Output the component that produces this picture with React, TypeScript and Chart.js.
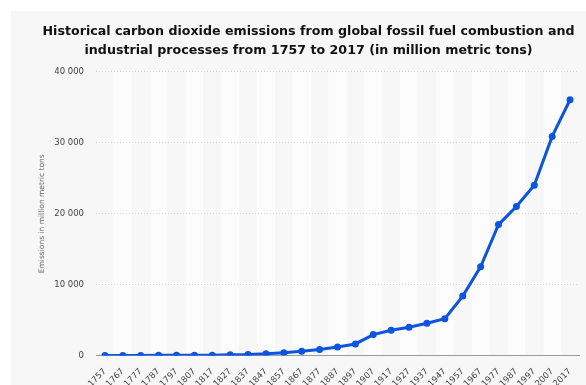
import React, { useEffect, useRef } from "react";
import { Chart, registerables } from "chart.js";

Chart.register(...registerables);

const years: string[] = [
  "1757", "1767", "1777", "1787", "1797", "1807", "1817", "1827", "1837",
  "1847", "1857", "1867", "1877", "1887", "1897", "1907", "1917", "1927",
  "1937", "1947", "1957", "1967", "1977", "1987", "1997", "2007", "2017",
];

const emissions: number[] = [
  9, 11, 14, 20, 26, 37, 45, 100, 130,
  230, 400, 600, 850, 1200, 1630, 2950, 3550, 3980,
  4550, 5200, 8380, 12520, 18470, 21010, 24030, 30910, 36080,
];

const titleLines: string[] = [
  "Historical carbon dioxide emissions from global fossil fuel combustion and",
  "industrial processes from 1757 to 2017 (in million metric tons)",
];

const yAxisTitle = "Emissions in million metric tons";

const fmt = (v: number) => String(v).replace(/\B(?=(\d{3})+(?!\d))/g, " ");

const backgroundPlugin = {
  id: "panelBands",
  beforeDraw(chart: any) {
    const { ctx, chartArea, scales } = chart;
    ctx.save();
    ctx.fillStyle = "#f7f7f7";
    ctx.fillRect(11, 11, chart.width - 11, chart.height - 11);
    const x = scales.x;
    const n = x.ticks.length;
    const bw = (chartArea.right - chartArea.left) / n;
    ctx.fillStyle = "#fcfcfc";
    for (let i = 1; i < n; i += 2) {
      const cx = x.getPixelForValue(i);
      ctx.fillRect(cx - bw / 2, chartArea.top, bw, chartArea.bottom - chartArea.top);
    }
    ctx.restore();
  },
};

export default function App() {
  const ref = useRef<HTMLCanvasElement>(null);
  useEffect(() => {
    if (!ref.current) return;
    const chart = new Chart(ref.current, {
      type: "line",
      data: {
        labels: years,
        datasets: [
          {
            data: emissions,
            borderColor: "#0b55e0",
            backgroundColor: "#0b55e0",
            borderWidth: 3,
            pointRadius: 3.5,
            pointBorderWidth: 0,
            pointHoverRadius: 3.5,
            tension: 0,
          },
        ],
      },
      options: {
        responsive: false,
        animation: false,
        layout: { padding: { left: 38, right: 7, top: 0, bottom: 0 } },
        plugins: {
          legend: { display: false },
          tooltip: { enabled: false },
          title: {
            display: true,
            text: titleLines,
            color: "#111",
            font: { family: "DejaVu Sans", size: 12.65, weight: "bold", lineHeight: 1.5 },
            padding: { top: 22, bottom: 12 },
          },
        },
        scales: {
          x: {
            type: "category",
            offset: true,
            grid: { display: false, drawTicks: false },
            border: { display: true, color: "#9a9a9a", width: 1 },
            ticks: {
              color: "#444",
              font: { family: "DejaVu Sans", size: 8.5 },
              maxRotation: 45,
              minRotation: 45,
              autoSkip: false,
              padding: 11,
            },
            afterFit(scale: any) {
              scale.height = 29.5;
              scale.paddingLeft = 0;
              scale.paddingRight = 0;
            },
          },
          y: {
            min: 0,
            max: 40000,
            grid: {
              color: (c: any) => (c.tick && c.tick.value === 0 ? "rgba(0,0,0,0)" : "#d8d8d8"),
              drawTicks: false,
              lineWidth: 1,
            },
            border: { display: false, dash: [1, 2] },
            ticks: {
              stepSize: 10000,
              color: "#444",
              padding: 12,
              font: { family: "DejaVu Sans", size: 8.5 },
              callback: (v: any) => fmt(Number(v)),
            },
            title: {
              display: true,
              text: yAxisTitle,
              color: "#666",
              font: { family: "DejaVu Sans", size: 7.5 },
              padding: 0,
            },
            afterFit(scale: any) {
              scale.width = 58;
            },
          },
        },
      },
      plugins: [backgroundPlugin],
    });
    return () => chart.destroy();
  }, []);
  return (
    <div style={{ position: "fixed", left: 0, top: 0, width: 586, height: 385, background: "#fff" }}>
      <canvas ref={ref} width={586} height={385} style={{ display: "block" }} />
    </div>
  );
}
